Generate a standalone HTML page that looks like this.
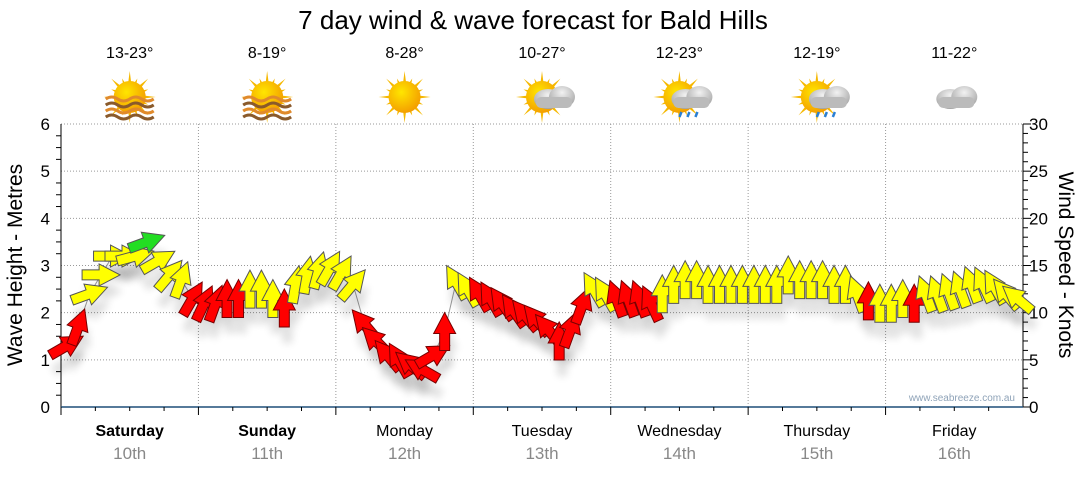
<!DOCTYPE html>
<html><head><meta charset="utf-8"><style>
body{margin:0;background:#fff;width:1080px;height:475px;overflow:hidden;font-family:"Liberation Sans","DejaVu Sans",sans-serif}
</style></head><body>
<svg id="c" width="1080" height="475" xmlns="http://www.w3.org/2000/svg">
<defs>
<radialGradient id="sun" cx="0.4" cy="0.35" r="0.7"><stop offset="0" stop-color="#ffe600"/><stop offset="1" stop-color="#f39a00"/></radialGradient>
<radialGradient id="cloud" cx="0.5" cy="0.3" r="0.8"><stop offset="0" stop-color="#f2f2f2"/><stop offset="1" stop-color="#999"/></radialGradient>
<filter id="sh" x="-50%" y="-50%" width="200%" height="200%"><feGaussianBlur stdDeviation="4"/></filter>
</defs>
<text x="533" y="29" font-size="26" text-anchor="middle" fill="#000">7 day wind &amp; wave forecast for Bald Hills</text>
<g id="grid"></g><g id="icons"></g><g id="axes"></g><g id="marks"></g>
<text transform="translate(22,265) rotate(-90)" font-size="21" text-anchor="middle">Wave Height - Metres</text>
<text transform="translate(1059,265) rotate(90)" font-size="21" text-anchor="middle">Wind Speed - Knots</text>
<text x="1015" y="401" font-size="10" text-anchor="end" fill="#8fa3b8">www.seabreeze.com.au</text>
</svg>
<script>
const days=["Saturday","Sunday","Monday","Tuesday","Wednesday","Thursday","Friday"];
const dates=["10th","11th","12th","13th","14th","15th","16th"];
const temps=["13-23°","8-19°","8-28°","10-27°","12-23°","12-19°","11-22°"];
const icons=["sunhaze","sunhaze","sun","suncloud","sunrain","sunrain","cloud"];
const waveTicks=[0,1,2,3,4,5,6];
const windTicks=[0,5,10,15,20,25,30];
const hours=[];for(let i=0;i<84;i++)hours.push(i*2+1);
const wave=[1.3,1.7,2.4,2.8,3.2,3.2,3.2,3.5,3.1,2.8,2.7,2.3,
2.2,2.2,2.3,2.3,2.5,2.5,2.3,2.1,2.6,2.8,2.9,2.95,
2.85,2.6,1.75,1.4,1.1,1.0,0.9,0.8,1.1,1.6,2.65,2.5,
2.4,2.3,2.2,2.05,1.95,1.85,1.65,1.4,1.65,2.15,2.5,2.4,
2.3,2.3,2.3,2.2,2.4,2.6,2.7,2.7,2.6,2.6,2.6,2.6,
2.6,2.6,2.6,2.8,2.7,2.7,2.7,2.6,2.6,2.4,2.25,2.2,
2.2,2.3,2.2,2.4,2.4,2.45,2.5,2.6,2.6,2.55,2.4,2.3];
const dir=[60,20,70,90,90,90,75,70,60,40,20,30,
25,20,0,0,0,0,0,0,10,10,15,30,
30,40,-40,-45,-40,-30,-50,-60,60,0,-30,-30,
-30,-30,-35,-35,-40,-40,-40,0,20,20,-30,-30,
-20,-20,-20,-25,0,0,0,0,0,0,0,0,
0,0,0,0,0,0,0,0,0,-20,0,0,
0,0,0,-20,-20,-20,-20,-20,-25,-30,-40,-50];
const speed=[8,8,14,14,14,14,14,20,14,14,14,8,
8,8,8,8,14,14,14,8,14,14,14,14,
14,14,8,8,8,8,8,8,8,8,14,14,
8,8,8,8,8,8,8,8,8,8,14,14,
8,8,8,8,14,14,14,14,14,14,14,14,
14,14,14,14,14,14,14,14,14,14,8,14,
14,14,8,14,14,14,14,14,14,14,14,14];
const X0=61,X1=1023,Y0=407,Y6=124;
const xs=h=>X0+h/168*(X1-X0);
const ym=m=>Y0-m/6*(Y0-Y6);
const yk=k=>Y0-k/30*(Y0-Y6);
const NS="http://www.w3.org/2000/svg";
function mk(tag,attrs,parent){const e=document.createElementNS(NS,tag);for(const k in attrs)e.setAttribute(k,attrs[k]);parent.appendChild(e);return e;}
const grid=document.getElementById('grid'),axes=document.getElementById('axes'),marks=document.getElementById('marks'),ic=document.getElementById('icons');
waveTicks.forEach(v=>{if(v>0){const l=mk('line',{x1:X0,x2:X1,y1:ym(v),y2:ym(v),stroke:'#999','stroke-dasharray':'1,2'},grid);

}
const t=mk('text',{x:50,y:ym(v)+6,'font-size':17,'text-anchor':'end'},axes);t.textContent=v;

});
windTicks.forEach(v=>{const t=mk('text',{x:1029,y:yk(v)+6,'font-size':17},axes);t.textContent=v;

});
for(let m=0;m<=24;m++){mk('line',{x1:X0-(m%4?5:0),x2:X0,y1:ym(m/4),y2:ym(m/4),stroke:'#000'},axes);}
for(let k=0;k<=30;k++){mk('line',{x1:X1,x2:X1+(k%5?5:8),y1:yk(k),y2:yk(k),stroke:'#000'},axes);}
mk('line',{x1:X0,x2:X0,y1:Y6,y2:Y0,stroke:'#000'},axes);
mk('line',{x1:X1,x2:X1,y1:Y6,y2:Y0,stroke:'#000'},axes);
mk('line',{x1:X0,x2:X1,y1:Y0,y2:Y0,stroke:'#1f4e79','stroke-width':1.5},axes);
days.forEach((d,i)=>{const xa=xs(i*24),xc=xs(i*24+12);
if(i>0){const l=mk('line',{x1:xa,x2:xa,y1:Y6,y2:Y0,stroke:'#999','stroke-dasharray':'1,2'},grid);

}
for(let q=0;q<4;q++)mk('line',{x1:xs(i*24+q*6),x2:xs(i*24+q*6),y1:Y0,y2:Y0+(q?4:8),stroke:'#000'},axes);
const t=mk('text',{x:xc,y:436,'font-size':16,'text-anchor':'middle','font-weight':i<2?'bold':'normal'},axes);t.textContent=d;


const t2=mk('text',{x:xc,y:459,'font-size':17,'text-anchor':'middle',fill:'#888'},axes);t2.textContent=dates[i];


const t3=mk('text',{x:xc,y:58,'font-size':16,'text-anchor':'middle'},ic);t3.textContent=temps[i];


const g=mk('g',{transform:`translate(${xc},97)`},ic);


const ty=icons[i];
if(ty!=='cloud'){for(let r=0;r<16;r++){const a=r*Math.PI/8,L=r%2?20:26;mk('polygon',{points:`${Math.cos(a-0.15)*12},${Math.sin(a-0.15)*12} ${Math.cos(a)*L},${Math.sin(a)*L} ${Math.cos(a+0.15)*12},${Math.sin(a+0.15)*12}`,fill:'#f5b800'},g);}
mk('circle',{cx:0,cy:0,r:16,fill:'url(#sun)'},g);}
if(ty==='sunhaze'){for(let w=0;w<4;w++)mk('path',{d:`M-24,${2+w*6} q6,-4 12,0 t12,0 t12,0 t12,0`,stroke:w%2?'#8a5a2b':'#e08a2b','stroke-width':3,fill:'none'},g);}
if(ty==='suncloud'||ty==='sunrain'||ty==='cloud'){const ox=ty==='cloud'?0:10;
mk('ellipse',{cx:ox-4,cy:2,rx:14,ry:10,fill:'url(#cloud)'},g);mk('ellipse',{cx:ox+10,cy:0,rx:13,ry:11,fill:'url(#cloud)'},g);mk('rect',{x:ox-16,y:0,width:36,height:11,rx:5,fill:'#bbb'},g);}
if(ty==='sunrain'){[2,10,18].forEach(dx=>mk('path',{d:`M${dx},15 l-2,5`,stroke:'#2a7fd4','stroke-width':2.5},g));}
});
const pts=[];
hours.forEach((h,i)=>{const x=xs(h),y=ym(wave[i]);pts.push(x+','+y);});
const ln=mk('polyline',{points:pts.join(' '),fill:'none',stroke:'#999','stroke-width':1},marks);


const arrowPts="-5,19 5,19 5,2 11,2 0,-19 -11,2 -5,2";
hours.forEach((h,i)=>{const x=xs(h),y=ym(wave[i]);
mk('polygon',{points:arrowPts,transform:`translate(${x+3},${y+16}) rotate(${dir[i]})`,fill:'#000',opacity:0.12,filter:'url(#sh)'},marks);});
hours.forEach((h,i)=>{const x=xs(h),y=ym(wave[i]);const s=speed[i];
const col=s<10?'#ff0000':(s<18?'#ffff00':'#22dd22');
const p=mk('polygon',{points:arrowPts,transform:`translate(${x},${y}) rotate(${dir[i]})`,fill:col,stroke:s<10?'#700':'#555','stroke-width':1},marks);

});
</script>
</body></html>
